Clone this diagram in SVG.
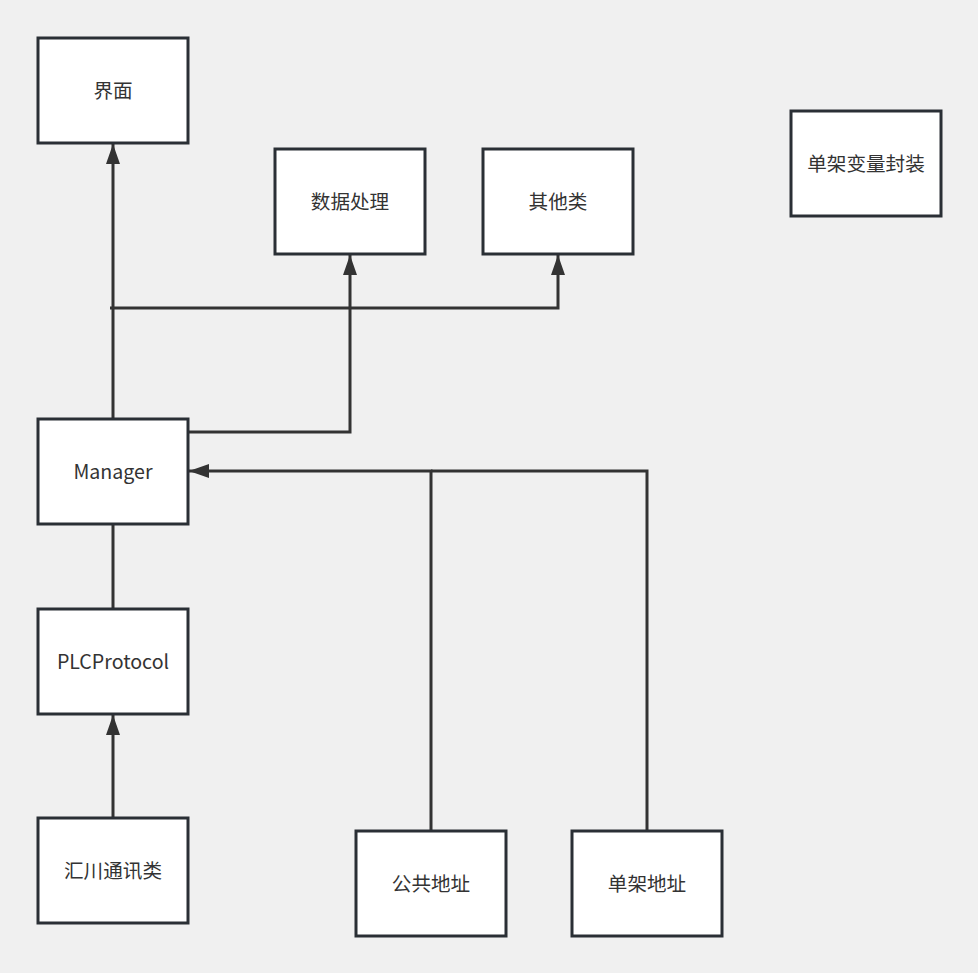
<svg xmlns="http://www.w3.org/2000/svg" width="978" height="973" viewBox="0 0 978 973">
<defs>
<marker id="arr" viewBox="0 0 20 14" refX="20" refY="7" markerWidth="20" markerHeight="14" markerUnits="userSpaceOnUse" orient="auto">
<path d="M0,0 L20,7 L0,14 Z" fill="#333333"/>
</marker>
<style>
.box{fill:#ffffff;stroke:#2a2f35;stroke-width:3}
.lbl{font-family:"Noto Sans CJK SC","Noto Sans",sans-serif;font-size:19.6px;fill:#333333;text-anchor:middle;dominant-baseline:central}
.c{fill:none;stroke:#333333;stroke-width:3}
</style>
</defs>
<rect width="978" height="973" fill="#f0f0f0"/>
<g id="connectors">
<path class="c" d="M113,419 V144" marker-end="url(#arr)"/>
<path class="c" d="M110,308 H558 V255" marker-end="url(#arr)"/>
<path class="c" d="M189,432 H350 V255" marker-end="url(#arr)"/>
<path class="c" d="M431,831 V471 H189" marker-end="url(#arr)"/>
<path class="c" d="M647,831 V471 H431"/>
<path class="c" d="M113,524 V609"/>
<path class="c" d="M113,818 V715" marker-end="url(#arr)"/>
</g>
<g id="n-jiemian"><rect class="box" x="38" y="38" width="150" height="105"/><text class="lbl" x="113" y="89.5">界面</text></g>
<g id="n-shuju"><rect class="box" x="275" y="149" width="150" height="105"/><text class="lbl" x="350" y="200.5">数据处理</text></g>
<g id="n-qita"><rect class="box" x="483" y="149" width="150" height="105"/><text class="lbl" x="558" y="200.5">其他类</text></g>
<g id="n-danjiabianliang"><rect class="box" x="791" y="111" width="150" height="105"/><text class="lbl" x="866" y="162.5">单架变量封装</text></g>
<g id="n-manager"><rect class="box" x="38" y="419" width="150" height="105"/><text class="lbl" x="113" y="470">Manager</text></g>
<g id="n-plc"><rect class="box" x="38" y="609" width="150" height="105"/><text class="lbl" x="113" y="660.5">PLCProtocol</text></g>
<g id="n-huichuan"><rect class="box" x="38" y="818" width="150" height="105"/><text class="lbl" x="113" y="869.5">汇川通讯类</text></g>
<g id="n-gonggong"><rect class="box" x="356" y="831" width="150" height="105"/><text class="lbl" x="431" y="882.5">公共地址</text></g>
<g id="n-danjiadizhi"><rect class="box" x="572" y="831" width="150" height="105"/><text class="lbl" x="647" y="882.5">单架地址</text></g>
</svg>
